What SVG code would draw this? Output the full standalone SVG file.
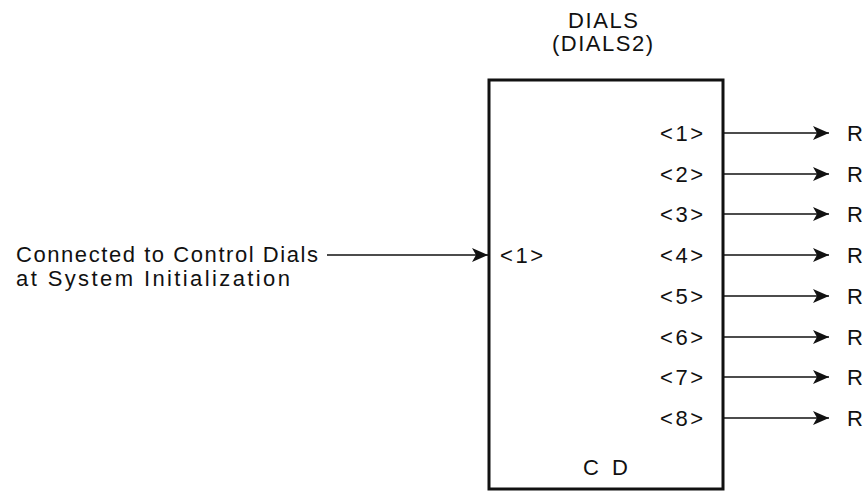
<svg xmlns="http://www.w3.org/2000/svg" width="868" height="491" viewBox="0 0 868 491">
<style>
text{font-family:"Liberation Sans",Arial,sans-serif;font-size:22px;fill:#111}
.box{fill:#fff;stroke:#111;stroke-width:3}
.wire{stroke:#111;stroke-width:1.5;fill:none}
</style>
<defs>
<marker id="arr" markerUnits="userSpaceOnUse" markerWidth="18" markerHeight="16" refX="16" refY="8" orient="auto">
<path d="M0,1 L16,8 L0,15 L4,8 Z" fill="#111"/>
</marker>
</defs>
<rect width="868" height="491" fill="#fff"/>
<g id="dials">
<rect class="box" x="489" y="80" width="234" height="409"/>
<text x="568" y="28" textLength="70" lengthAdjust="spacing">DIALS</text>
<text x="552" y="51" textLength="101" lengthAdjust="spacing">(DIALS2)</text>
<text x="500" y="263" textLength="43" lengthAdjust="spacing">&lt;1&gt;</text>
<text x="660" y="141" textLength="43" lengthAdjust="spacing">&lt;1&gt;</text>
<text x="660" y="182" textLength="43" lengthAdjust="spacing">&lt;2&gt;</text>
<text x="660" y="222" textLength="43" lengthAdjust="spacing">&lt;3&gt;</text>
<text x="660" y="263" textLength="43" lengthAdjust="spacing">&lt;4&gt;</text>
<text x="660" y="304" textLength="43" lengthAdjust="spacing">&lt;5&gt;</text>
<text x="660" y="345" textLength="43" lengthAdjust="spacing">&lt;6&gt;</text>
<text x="660" y="385" textLength="43" lengthAdjust="spacing">&lt;7&gt;</text>
<text x="660" y="426" textLength="43" lengthAdjust="spacing">&lt;8&gt;</text>
<text x="583" y="475" textLength="45" lengthAdjust="spacing">C D</text>
</g>
<g id="source">
<text x="16" y="262" textLength="302" lengthAdjust="spacing">Connected to Control Dials</text>
<text x="16" y="286" textLength="274" lengthAdjust="spacing">at System Initialization</text>
</g>
<g id="outputs">
<text x="847" y="141">R</text>
<text x="847" y="182">R</text>
<text x="847" y="222">R</text>
<text x="847" y="263">R</text>
<text x="847" y="304">R</text>
<text x="847" y="345">R</text>
<text x="847" y="385">R</text>
<text x="847" y="426">R</text>
</g>
<g id="connectors">
<line class="wire" x1="327" y1="255" x2="488" y2="255" marker-end="url(#arr)"/>
<line class="wire" x1="724" y1="133" x2="829" y2="133" marker-end="url(#arr)"/>
<line class="wire" x1="724" y1="174" x2="829" y2="174" marker-end="url(#arr)"/>
<line class="wire" x1="724" y1="214" x2="829" y2="214" marker-end="url(#arr)"/>
<line class="wire" x1="724" y1="255" x2="829" y2="255" marker-end="url(#arr)"/>
<line class="wire" x1="724" y1="296" x2="829" y2="296" marker-end="url(#arr)"/>
<line class="wire" x1="724" y1="337" x2="829" y2="337" marker-end="url(#arr)"/>
<line class="wire" x1="724" y1="377" x2="829" y2="377" marker-end="url(#arr)"/>
<line class="wire" x1="724" y1="418" x2="829" y2="418" marker-end="url(#arr)"/>
</g>
</svg>
